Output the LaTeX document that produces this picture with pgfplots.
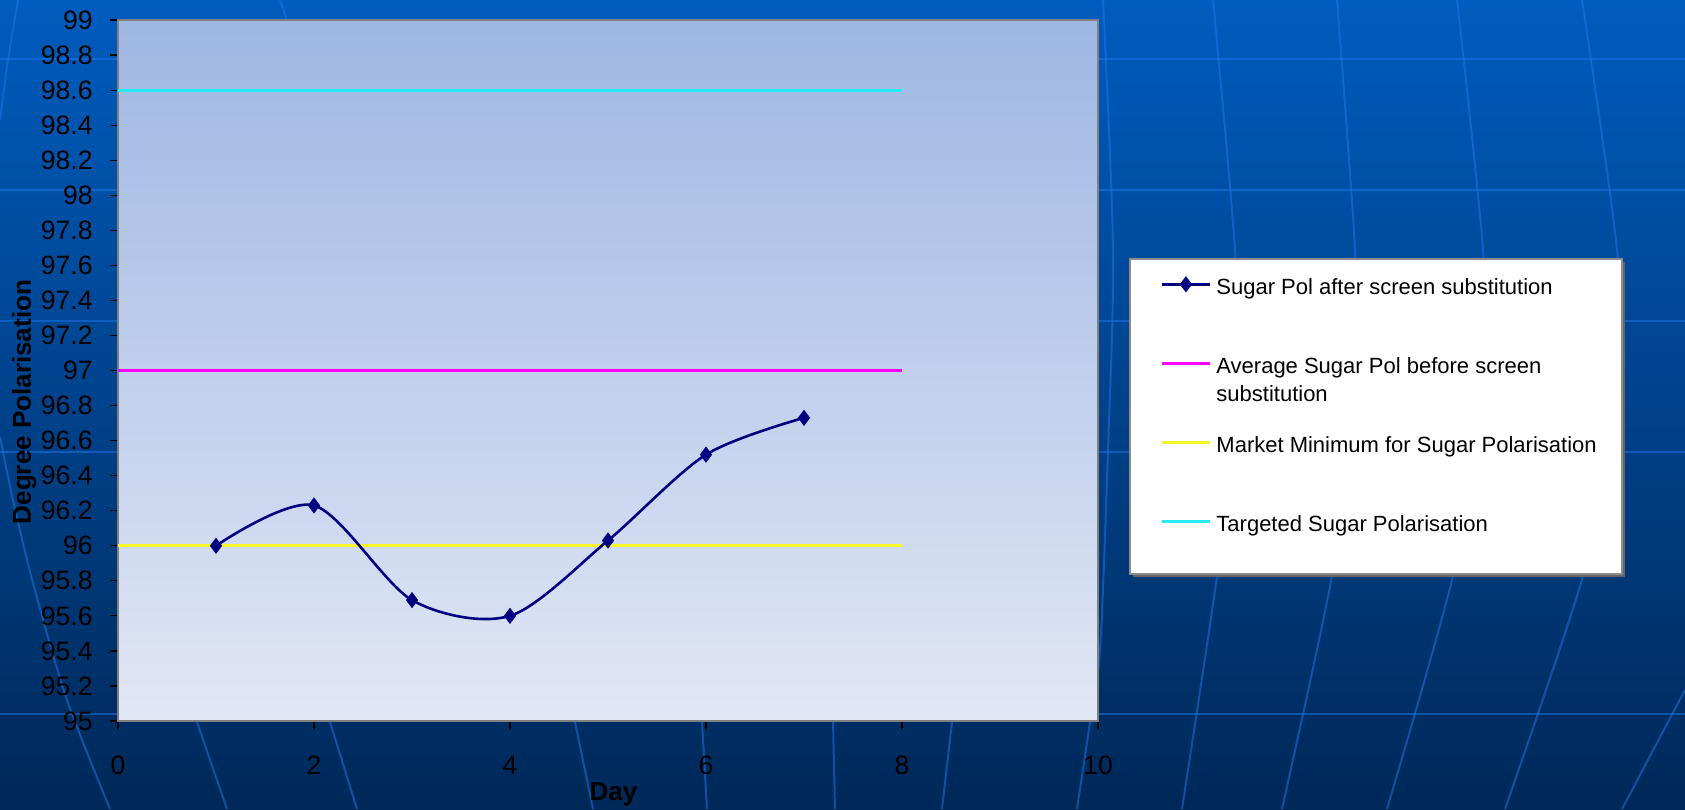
\documentclass[border=0pt]{standalone}
\usepackage{fontspec}
\setmainfont{Liberation Sans}
\usepackage{pgfplots}
\pgfplotsset{compat=1.18}
\definecolor{bgtop}{RGB}{0,92,190}
\definecolor{bgbot}{RGB}{0,40,88}
\definecolor{bgline}{RGB}{30,120,235}
\definecolor{plottop}{RGB}{158,183,227}
\definecolor{plotbot}{RGB}{225,231,245}
\definecolor{navyser}{RGB}{0,0,128}
\definecolor{cyanl}{RGB}{40,235,245}
\definecolor{magl}{RGB}{255,0,255}
\definecolor{yell}{RGB}{245,245,40}
\pgfplotstableread{
x y
1 96.00
2 96.23
3 95.69
4 95.60
5 96.03
6 96.52
7 96.73
}\sugar
\begin{document}
\begin{tikzpicture}
% slide background
\fill[top color=bgtop, bottom color=bgbot] (0,0) rectangle (842.5pt,404.5pt);
\begin{scope}[x=0.5pt,y=-0.5pt,shift={(0pt,404.5pt)}]
 \begin{scope}[draw=bgline, line width=1pt, opacity=0.5]
  \foreach \yy in {59,190,321,452,714} {\draw (0,\yy) -- (1685,\yy);}
  \draw plot[smooth] coordinates {(0,437) (13,500) (33,583) (67,700) (110,809)};
  \draw plot[smooth] coordinates {(18,0) (8,60) (0,120)};
  \draw (197,722) -- (227,809);
  \draw (330,722) -- (357,809);
  \draw (575,722) -- (593,809);
  \draw (702,722) -- (707,809);
  \draw (833,722) -- (835,809);
  \draw (952,722) -- (942,809);
  \draw (280,0) -- (287,20);
  \draw plot[smooth] coordinates {(1103,0) (1113,250) (1108,450) (1100,650) (1090,722) (1077,809)};
  \draw plot[smooth] coordinates {(1213,0) (1235,250) (1238,400) (1217,576) (1182,809)};
  \draw plot[smooth] coordinates {(1337,0) (1355,250) (1357,400) (1332,576) (1282,809)};
  \draw plot[smooth] coordinates {(1457,0) (1483,250) (1485,400) (1453,576) (1387,809)};
  \draw plot[smooth] coordinates {(1582,0) (1617,250) (1622,400) (1583,576) (1505,809)};
  \draw (1685,690) -- (1622,809);
 \end{scope}
 % legend box
 \fill[black!60] (1133,262) rectangle (1625,577);
 \fill[white, draw=black!45, line width=0.6pt] (1130,259) rectangle (1622,574);
\end{scope}
\begin{axis}[
  at={(59pt,44pt)}, anchor=south west,
  scale only axis, width=490pt, height=350.5pt,
  xmin=0, xmax=10, ymin=95, ymax=99,
  xtick={0,2,4,6,8,10},
  ytick={95,95.2,95.4,95.6,95.8,96,96.2,96.4,96.6,96.8,97,97.2,97.4,97.6,97.8,98,98.2,98.4,98.6,98.8,99},
  /pgf/number format/fixed, /pgf/number format/precision=1,
  /pgf/number format/assume math mode=true,
  axis background/.style={top color=plottop, bottom color=plotbot},
  axis line style={draw=black!50, line width=1.2pt},
  tick align=outside, major tick length=4pt,
  tick style={black, line width=0.6pt},
  xtick pos=bottom, ytick pos=left,
  ticklabel style={font=\fontsize{13.3}{15}\selectfont, text=black},
  xticklabel style={anchor=center, yshift=-18pt},
  yticklabel style={anchor=east, inner sep=0pt, xshift=-8.5pt},
  xlabel={\bfseries Day},
  ylabel={\bfseries Degree Polarisation},
  every axis x label/.style={at={(axis description cs:0.5056,-0.1127)}, anchor=base, font=\fontsize{13}{15}\selectfont},
  every axis y label/.style={at={(axis description cs:-0.0888,0.455)}, anchor=base, rotate=90, font=\fontsize{13}{15}\selectfont},
  legend style={at={(axis description cs:1.0633,0.6434)}, anchor=north west,
    draw=none, fill=none, inner sep=0pt, row sep=25pt, column sep=2.5pt,
    font=\fontsize{11}{13}\selectfont,
    nodes={inner sep=0pt, text height=8pt, text depth=2.5pt}},
  legend cell align=left,
  legend image code/.code={\path (0pt,8.5pt); \draw[mark repeat=2,mark phase=2,#1] plot coordinates {(0pt,2.2pt) (12pt,2.2pt) (24pt,2.2pt)};},
]
\addlegendimage{navyser, line width=1.3pt, mark=diamond*, mark size=3pt, mark options={solid, fill=navyser}}
\addlegendentry{Sugar Pol after screen substitution}
\addplot[magl, line width=1.5pt] coordinates {(0,97) (8,97)};
\addlegendentry{\smash{\makebox[0pt][l]{\raisebox{-14pt}{substitution}}}Average Sugar Pol before screen}
\addplot[yell, line width=1.5pt] coordinates {(0,96) (8,96)};
\addlegendentry{Market Minimum for Sugar Polarisation}
\addplot[cyanl, line width=1.5pt] coordinates {(0,98.6) (8,98.6)};
\addlegendentry{Targeted Sugar Polarisation}
\addplot[navyser, line width=1.3pt, smooth, mark=diamond*, mark size=3pt, mark options={solid, fill=navyser}, forget plot] table[x=x,y=y] {\sugar};
\end{axis}
\pgfresetboundingbox
\useasboundingbox (0,0) rectangle (842.5pt,404.5pt);
\end{tikzpicture}
\end{document}
